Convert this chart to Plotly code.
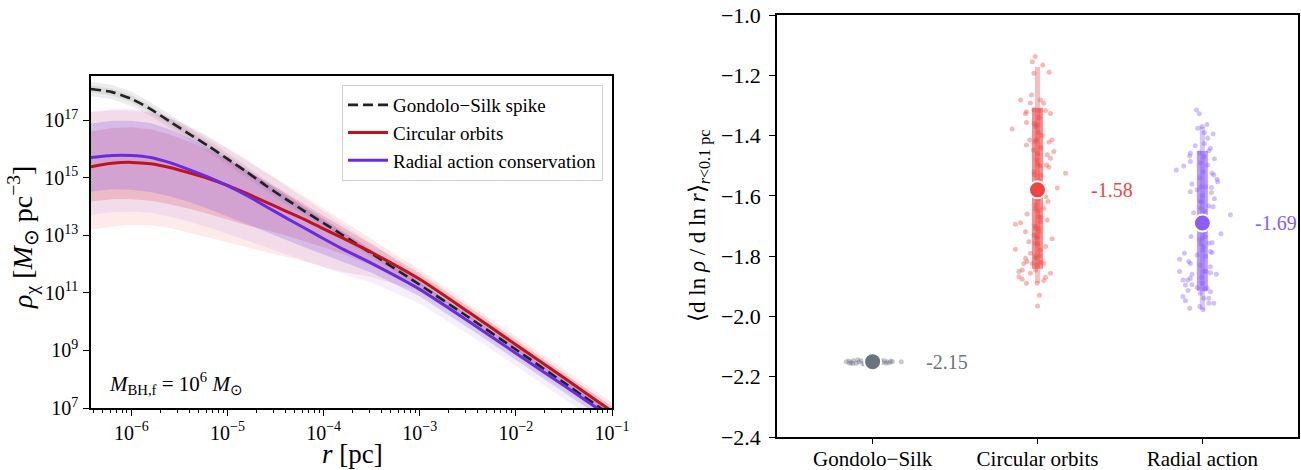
import plotly.graph_objects as go

# ---------------- left panel data (log10 values) ----------------
log_r = [-6.42, -6.2, -6.0, -5.8, -5.6, -5.4, -5.2, -5.0, -4.8, -4.6,
         -4.4, -4.2, -4.0, -3.8, -3.5, -3.0, -2.5, -2.0, -1.5, -1.0]

gs_rho = [18.08, 17.97, 17.74, 17.38, 16.95, 16.52, 16.10, 15.65, 15.20, 14.72,
          14.27, 13.84, 13.42, 13.00, 12.36, 11.28, 10.17, 9.03, 7.88, 6.72]
gs_hi2 = [18.33, 18.22, 17.99, 17.62, 17.19, 16.75, 16.32, 15.86, 15.40, 14.91,
          14.46, 14.01, 13.58, 13.14, 12.48, 11.40, 10.28, 9.14, 7.98, 6.82]
gs_lo2 = [17.83, 17.72, 17.49, 17.14, 16.71, 16.29, 15.88, 15.44, 15.00, 14.53,
          14.08, 13.67, 13.26, 12.86, 12.24, 11.16, 10.06, 8.92, 7.78, 6.62]
gs_hi1 = [18.20, 18.09, 17.86, 17.50, 17.07, 16.64, 16.21, 15.76, 15.30, 14.82,
          14.37, 13.93, 13.51, 13.08, 12.43, 11.34, 10.22, 9.08, 7.93, 6.77]
gs_lo1 = [17.96, 17.85, 17.62, 17.26, 16.83, 16.40, 15.99, 15.54, 15.10, 14.62,
          14.17, 13.75, 13.33, 12.92, 12.29, 11.22, 10.12, 8.98, 7.83, 6.67]

circ_rho = [15.38, 15.50, 15.53, 15.48, 15.35, 15.17, 14.97, 14.73, 14.45, 14.15,
            13.85, 13.55, 13.22, 12.90, 12.40, 11.47, 10.35, 9.20, 8.05, 6.88]
circ_hi2 = [17.28, 17.33, 17.33, 17.25, 17.05, 16.75, 16.40, 16.00, 15.60, 15.20,
            14.78, 14.35, 13.92, 13.50, 12.85, 11.80, 10.65, 9.50, 8.35, 7.18]
circ_lo2 = [13.19, 13.30, 13.36, 13.35, 13.25, 13.10, 12.92, 12.75, 12.58, 12.42,
            12.25, 12.10, 11.90, 11.72, 11.55, 11.05, 10.02, 8.90, 7.75, 6.58]
circ_hi1 = [16.60, 16.72, 16.75, 16.68, 16.50, 16.25, 15.95, 15.62, 15.25, 14.87,
            14.48, 14.08, 13.68, 13.30, 12.70, 11.68, 10.53, 9.37, 8.21, 7.04]
circ_lo1 = [14.17, 14.25, 14.25, 14.20, 14.08, 13.92, 13.75, 13.55, 13.35, 13.18,
            13.00, 12.80, 12.58, 12.35, 11.95, 11.25, 10.17, 9.03, 7.89, 6.72]

rad_rho = [15.70, 15.77, 15.77, 15.70, 15.52, 15.28, 15.02, 14.72, 14.38, 14.00,
           13.62, 13.25, 12.88, 12.52, 12.02, 11.12, 10.03, 8.90, 7.78, 6.64]
rad_hi2 = [17.30, 17.38, 17.38, 17.30, 17.10, 16.80, 16.45, 16.05, 15.62, 15.18,
           14.72, 14.27, 13.82, 13.38, 12.72, 11.58, 10.45, 9.32, 8.18, 7.04]
rad_lo2 = [13.71, 13.80, 13.82, 13.78, 13.65, 13.48, 13.28, 13.05, 12.82, 12.58,
           12.35, 12.12, 11.88, 11.65, 11.35, 10.62, 9.58, 8.46, 7.32, 6.22]
rad_hi1 = [16.88, 16.98, 16.98, 16.90, 16.68, 16.38, 16.03, 15.65, 15.25, 14.83,
           14.40, 13.97, 13.55, 13.13, 12.50, 11.38, 10.25, 9.12, 7.98, 6.84]
rad_lo1 = [14.52, 14.60, 14.58, 14.50, 14.35, 14.15, 13.92, 13.67, 13.40, 13.12,
           12.85, 12.58, 12.32, 12.08, 11.70, 10.88, 9.80, 8.68, 7.55, 6.42]

x_tick_exp = [-6, -5, -4, -3, -2, -1]
y_tick_exp = [7, 9, 11, 13, 15, 17]

# ---------------- right panel data ----------------
categories = ["Gondolo\u2212Silk", "Circular orbits", "Radial action"]
means = [-2.15, -1.58, -1.69]
inner_lo = [-2.155, -1.842, -1.915]
inner_hi = [-2.145, -1.308, -1.451]
outer_lo = [-2.160, -1.889, -1.978]
outer_hi = [-2.140, -1.172, -1.371]
mean_labels = ["-2.15", "-1.58", "-1.69"]
y2_ticks = [-2.4, -2.2, -2.0, -1.8, -1.6, -1.4, -1.2, -1.0]

gs_dx = [-0.160, -0.144, -0.130, -0.116, -0.099, -0.083, -0.069, -0.059, -0.043, 0.043,
         0.059, 0.073, 0.087, 0.103, 0.120, 0.174, -0.120, -0.090, -0.050, 0.050,
         0.080, 0.110, -0.020, 0.020, 0.000, -0.140]
gs_y = [-2.150, -2.148, -2.153, -2.146, -2.155, -2.151, -2.147, -2.156, -2.152, -2.149,
        -2.153, -2.147, -2.151, -2.154, -2.150, -2.150, -2.156, -2.144, -2.158, -2.145,
        -2.155, -2.148, -2.152, -2.149, -2.151, -2.155]

circ_dx = [-0.014, -0.032, 0.032, -0.022, 0.071, -0.036, -0.103, 0.018, 0.038, -0.043,
           -0.067, -0.073, -0.022, 0.014, 0.049, 0.079, -0.067, -0.154, -0.002, 0.028,
           -0.047, -0.006, 0.089, -0.067, -0.026, 0.069, 0.099, 0.059, 0.079, 0.002,
           0.055, 0.069, -0.022, 0.170, 0.018, 0.120, 0.049, 0.063, 0.038, -0.063,
           -0.012, 0.008, 0.059, -0.134, -0.103, 0.018, -0.073, -0.012, 0.008, 0.089,
           -0.022, -0.002, -0.053, -0.012, -0.134, 0.049, -0.043, -0.073, -0.083, -0.063,
           0.014, -0.012, 0.038, -0.032, -0.113, -0.093, -0.012, 0.079, -0.113, -0.093,
           -0.067, 0.049, 0.038, -0.002, -0.043, 0.012, 0.000,
           0.010, -0.010, 0.005, -0.015, 0.020, 0.000, -0.005, 0.015, -0.020, 0.010,
           0.000, -0.010, 0.005, 0.020, -0.015, 0.010, -0.005, 0.000, 0.015, -0.010,
           0.020, -0.020, 0.005, -0.005]
circ_y = [-1.138, -1.155, -1.166, -1.193, -1.190, -1.265, -1.282, -1.282, -1.293, -1.292,
          -1.321, -1.328, -1.315, -1.318, -1.317, -1.327, -1.357, -1.378, -1.365, -1.400,
          -1.415, -1.414, -1.415, -1.431, -1.448, -1.421, -1.453, -1.464, -1.475, -1.494,
          -1.498, -1.505, -1.520, -1.525, -1.531, -1.574, -1.603, -1.619, -1.641, -1.660,
          -1.644, -1.669, -1.680, -1.694, -1.689, -1.686, -1.719, -1.708, -1.708, -1.742,
          -1.730, -1.735, -1.752, -1.757, -1.777, -1.768, -1.790, -1.807, -1.824, -1.818,
          -1.799, -1.807, -1.824, -1.824, -1.851, -1.846, -1.846, -1.857, -1.868, -1.877,
          -1.890, -1.870, -1.881, -1.890, -1.857, -1.930, -1.965,
          -1.34, -1.37, -1.39, -1.42, -1.44, -1.46, -1.48, -1.50, -1.53, -1.55,
          -1.61, -1.63, -1.65, -1.67, -1.70, -1.72, -1.74, -1.76, -1.78, -1.80,
          -1.82, -1.36, -1.59, -1.83]

rad_dx = [-0.036, -0.018, -0.002, 0.028, -0.028, 0.012, 0.065, 0.032, 0.012, -0.043,
          0.049, 0.039, -0.073, -0.016, 0.073, -0.077, -0.073, -0.113, -0.158, 0.032,
          0.059, 0.069, 0.089, 0.093, -0.063, -0.032, -0.073, -0.008, 0.055, 0.055,
          0.073, -0.012, 0.065, 0.039, 0.170, -0.053, 0.113, -0.069, 0.018, -0.016,
          0.039, 0.059, 0.008, 0.049, -0.109, -0.138, -0.032, 0.059, -0.073, -0.083,
          0.049, 0.024, -0.138, -0.063, 0.085, 0.049, -0.118, -0.089, -0.073, -0.103,
          -0.063, -0.032, -0.087, -0.012, 0.028, 0.049, -0.118, -0.103, 0.008, 0.039,
          0.039, 0.069, -0.016, 0.004, -0.077,
          0.010, -0.010, 0.005, -0.015, 0.020, 0.000, -0.005, 0.015, -0.020, 0.010,
          0.000, -0.010, 0.005, 0.020, -0.015, 0.010, -0.005, 0.000, 0.015, -0.010]
rad_y = [-1.315, -1.328, -1.370, -1.363, -1.376, -1.390, -1.395, -1.409, -1.426, -1.434,
         -1.442, -1.450, -1.459, -1.457, -1.477, -1.468, -1.486, -1.501, -1.514, -1.498,
         -1.525, -1.531, -1.545, -1.553, -1.561, -1.580, -1.586, -1.569, -1.572, -1.589,
         -1.610, -1.617, -1.636, -1.634, -1.663, -1.656, -1.726, -1.735, -1.735, -1.746,
         -1.757, -1.755, -1.768, -1.785, -1.790, -1.810, -1.796, -1.788, -1.824, -1.818,
         -1.835, -1.851, -1.851, -1.860, -1.860, -1.855, -1.879, -1.879, -1.873, -1.896,
         -1.895, -1.904, -1.914, -1.923, -1.906, -1.918, -1.934, -1.948, -1.940, -1.940,
         -1.956, -1.956, -1.967, -1.978, -1.973,
         -1.47, -1.49, -1.52, -1.54, -1.57, -1.60, -1.62, -1.65, -1.67, -1.72,
         -1.74, -1.76, -1.78, -1.80, -1.83, -1.85, -1.87, -1.89, -1.91, -1.64]

# ---------------- styling ----------------
FONT = "Liberation Serif"
C_GS_LINE = "#222222"
C_CIRC_LINE = "#c0141c"
C_RAD_LINE = "#6a2be0"
C_CAT = ["#6b7280", "#ef4444", "#8b5cf6"]

W, H = 1301, 470
L_AX = dict(x0=91, x1=612, y0=76, y1=408)
R_AX = dict(x0=777, x1=1298, y0=15, y1=437)


def px_dom(ax):
    return ([ax["x0"] / W, ax["x1"] / W], [1 - ax["y1"] / H, 1 - ax["y0"] / H])


r_vals = [10 ** v for v in log_r]


def pw(arr):
    return [10 ** v for v in arr]


def band(lo, hi, color):
    return go.Scatter(x=r_vals + r_vals[::-1], y=pw(hi) + pw(lo)[::-1],
                      fill="toself", fillcolor=color, mode="lines",
                      line=dict(width=0), hoverinfo="skip", showlegend=False,
                      xaxis="x", yaxis="y")


fig = go.Figure()

# grey bands
fig.add_trace(band(gs_lo2, gs_hi2, "rgba(120,120,120,0.14)"))
fig.add_trace(band(gs_lo1, gs_hi1, "rgba(120,120,120,0.14)"))
# red bands
fig.add_trace(band(circ_lo2, circ_hi2, "rgba(235,60,60,0.11)"))
fig.add_trace(band(circ_lo1, circ_hi1, "rgba(225,50,60,0.20)"))
# purple bands
fig.add_trace(band(rad_lo2, rad_hi2, "rgba(160,100,225,0.10)"))
fig.add_trace(band(rad_lo1, rad_hi1, "rgba(150,110,230,0.30)"))

fig.add_trace(go.Scatter(x=r_vals, y=pw(gs_rho), mode="lines", name="Gondolo\u2212Silk spike",
                         line=dict(color=C_GS_LINE, width=2.6, dash="10px,5px", shape="spline", smoothing=0.6),
                         xaxis="x", yaxis="y"))
fig.add_trace(go.Scatter(x=r_vals, y=pw(circ_rho), mode="lines", name="Circular orbits",
                         line=dict(color=C_CIRC_LINE, width=3, shape="spline", smoothing=0.6),
                         xaxis="x", yaxis="y"))
fig.add_trace(go.Scatter(x=r_vals, y=pw(rad_rho), mode="lines", name="Radial action conservation",
                         line=dict(color=C_RAD_LINE, width=3, shape="spline", smoothing=0.6),
                         xaxis="x", yaxis="y"))

# ---------------- right panel traces ----------------
for i in range(3):
    fig.add_trace(go.Scatter(x=[i, i], y=[outer_lo[i], outer_hi[i]], mode="lines",
                             line=dict(color=C_CAT[i], width=5), opacity=0.35,
                             showlegend=False, hoverinfo="skip", xaxis="x2", yaxis="y2"))
    fig.add_trace(go.Scatter(x=[i, i], y=[inner_lo[i], inner_hi[i]], mode="lines",
                             line=dict(color=C_CAT[i], width=11), opacity=0.6,
                             showlegend=False, hoverinfo="skip", xaxis="x2", yaxis="y2"))

for i, (dx, yy) in enumerate([(gs_dx, gs_y), (circ_dx, circ_y), (rad_dx, rad_y)]):
    fig.add_trace(go.Scatter(x=[i + d for d in dx], y=yy, mode="markers",
                             marker=dict(color=C_CAT[i], size=5, opacity=0.38, line=dict(width=0)),
                             showlegend=False, hoverinfo="skip", xaxis="x2", yaxis="y2"))

for i in range(3):
    fig.add_trace(go.Scatter(x=[i], y=[means[i]], mode="markers",
                             marker=dict(color=C_CAT[i], size=17, line=dict(color="white", width=2)),
                             showlegend=False, hoverinfo="skip", xaxis="x2", yaxis="y2"))

# ---------------- layout ----------------
xd1, yd1 = px_dom(L_AX)
xd2, yd2 = px_dom(R_AX)

minor_x = [k * 10 ** e for e in range(-7, 0) for k in range(2, 10)]

axis_common = dict(showline=True, linecolor="black", linewidth=1.5, mirror=True,
                   ticks="outside", tickcolor="black", tickwidth=1.3, showgrid=False,
                   zeroline=False, automargin=False,
                   tickfont=dict(family=FONT, size=20, color="black"))

annotations = [
    dict(text="<i>\u03c1</i><sub>\u03c7</sub> [<i>M</i><sub>\u2299</sub> pc<sup>\u22123</sup>]",
         x=23 / W, y=1 - 238 / H, xref="paper", yref="paper", textangle=-90,
         xanchor="center", yanchor="middle",
         showarrow=False, font=dict(family=FONT, size=28, color="black")),
    dict(text="<i>r</i> [pc]", x=352 / W, y=1 - 454 / H, xref="paper", yref="paper",
         xanchor="center", yanchor="middle",
         showarrow=False, font=dict(family=FONT, size=27, color="black")),
    dict(text="<i>M</i><sub>BH,f</sub> = 10<sup>6</sup> <i>M</i><sub>\u2299</sub>",
         x=107 / W, y=1 - 383 / H, xref="paper", yref="paper", xanchor="left", yanchor="middle",
         showarrow=False, font=dict(family=FONT, size=21, color="black")),
    dict(text="\u27e8d ln <i>\u03c1</i> / d ln <i>r</i>\u27e9<sub><i>r</i>&lt;0.1 pc</sub>",
         x=700 / W, y=1 - 226 / H, xref="paper", yref="paper", textangle=-90,
         xanchor="center", yanchor="middle",
         showarrow=False, font=dict(family=FONT, size=23, color="black")),
]
for i in range(3):
    annotations.append(dict(text=mean_labels[i], x=i + 0.31, y=means[i], xref="x2", yref="y2",
                            xanchor="left", yanchor="middle", showarrow=False,
                            font=dict(family=FONT, size=20, color=C_CAT[i])))

fig.update_layout(
    template="none",
    width=W, height=H, margin=dict(l=0, r=0, t=0, b=0, pad=0, autoexpand=False),
    paper_bgcolor="white", plot_bgcolor="white",
    xaxis=dict(type="log", domain=xd1, range=[-6.42, -1.0], anchor="y",
               tickvals=[10 ** e for e in x_tick_exp],
               ticktext=["10<sup>\u2212%d</sup>" % (-e) for e in x_tick_exp],
               ticklen=6, minor=dict(tickvals=minor_x, ticks="outside", ticklen=3.5,
                                     tickcolor="black", tickwidth=1, showgrid=False),
               **axis_common),
    yaxis=dict(type="log", domain=yd1, range=[7.0, 18.53], anchor="x",
               tickvals=[10 ** e for e in y_tick_exp],
               ticktext=["10<sup>%d</sup>" % e for e in y_tick_exp],
               ticklen=6, ticklabelstandoff=1, **axis_common),
    xaxis2=dict(domain=xd2, range=[-0.58, 2.58], anchor="y2",
                tickvals=[0, 1, 2], ticktext=categories, ticklen=5, ticklabelstandoff=-3,
                **{**axis_common, "tickfont": dict(family=FONT, size=21, color="black")}),
    yaxis2=dict(domain=yd2, range=[-2.4, -1.0], anchor="x2",
                tickvals=y2_ticks, ticktext=["\u2212%.1f" % (-v) for v in y2_ticks],
                ticklen=6, ticklabelstandoff=4,
                **{**axis_common, "tickfont": dict(family=FONT, size=22, color="black")}),
    legend=dict(x=603 / W, y=1 - 85 / H, xanchor="right", yanchor="top",
                bgcolor="white", bordercolor="#d0d0d0", borderwidth=1,
                font=dict(family=FONT, size=19, color="black"), itemwidth=40,
                tracegroupgap=0),
    annotations=annotations,
)

fig.write_html("out.html")
